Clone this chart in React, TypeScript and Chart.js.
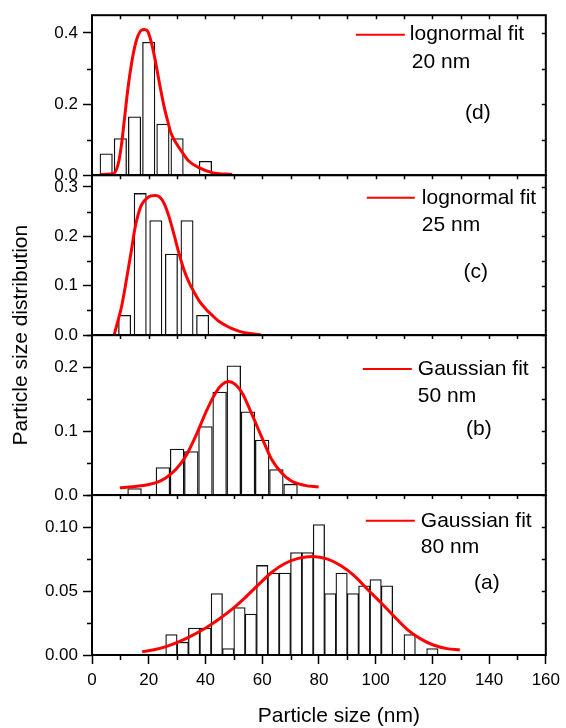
import React, { useEffect, useRef } from 'react';
import { Chart, registerables } from 'chart.js';

Chart.register(...registerables);

const FONT_FAMILY = '"Liberation Sans", Arial, Helvetica, sans-serif';

// ---------- shared x axis ----------
const xMin = 0;
const xMax = 160;
const xMajorStep = 20;
const xMinorStep = 10;

// ---------- panel (d): 20 nm, lognormal fit ----------
const dBinX = [5, 10, 15, 20, 25, 30, 40];
const dBinY = [0.060, 0.103, 0.164, 0.374, 0.144, 0.103, 0.039];
const dFitX = [2.8, 7.5, 9.2, 10.4, 11.5, 12.7, 13.9, 15.0, 16.2, 17.4, 18.5, 19.7, 20.8, 22.0, 23.2, 24.3, 25.5, 26.7, 27.8, 29.6, 31.9, 34.2, 37.7, 42.4, 49.4];
const dFitY = [0.002, 0.004, 0.030, 0.086, 0.162, 0.246, 0.312, 0.359, 0.392, 0.408, 0.410, 0.404, 0.377, 0.335, 0.284, 0.237, 0.190, 0.152, 0.119, 0.091, 0.063, 0.039, 0.021, 0.007, 0.002];

// ---------- panel (c): 25 nm, lognormal fit ----------
const cBinX = [11.5, 17, 22.5, 28, 33.5, 39];
const cBinY = [0.040, 0.287, 0.232, 0.164, 0.232, 0.040];
const cFitX = [7.8, 9.2, 10.4, 11.5, 12.7, 13.9, 15.0, 16.2, 17.4, 19.1, 20.8, 22.4, 23.8, 25.5, 27.2, 29.0, 30.7, 32.5, 34.2, 36.0, 37.7, 40.1, 42.4, 44.7, 47.0, 49.4, 52.9, 56.4, 59.6];
const cFitY = [0, 0.030, 0.057, 0.091, 0.131, 0.172, 0.212, 0.243, 0.263, 0.276, 0.282, 0.283, 0.280, 0.266, 0.239, 0.202, 0.165, 0.131, 0.107, 0.087, 0.070, 0.053, 0.040, 0.028, 0.020, 0.013, 0.006, 0.003, 0];

// ---------- panel (b): 50 nm, Gaussian fit ----------
const bBinX = [15, 25, 30, 35, 40, 45, 50, 55, 60, 65, 70];
const bBinY = [0.010, 0.043, 0.072, 0.068, 0.107, 0.161, 0.202, 0.130, 0.086, 0.040, 0.017];
const bFitX = [9.8, 14.4, 19.1, 22.6, 26.1, 29.6, 33.1, 36.6, 40.1, 43.6, 45.9, 48.2, 50.5, 52.9, 56.4, 59.9, 63.3, 66.8, 70.3, 75.0, 79.9];
const bFitY = [0.0115, 0.013, 0.0157, 0.0193, 0.0272, 0.0402, 0.0611, 0.0924, 0.129, 0.160, 0.173, 0.1775, 0.173, 0.160, 0.126, 0.0898, 0.0559, 0.035, 0.0219, 0.0151, 0.0125];

// ---------- panel (a): 80 nm, Gaussian fit ----------
const aBinX = [28, 32, 36, 40, 44, 48, 52, 56, 60, 64, 68, 72, 76, 80, 84, 88, 92, 96, 100, 104, 112, 120];
const aBinY = [0.016, 0.010, 0.021, 0.021, 0.048, 0.005, 0.037, 0.032, 0.070, 0.064, 0.064, 0.080, 0.080, 0.102, 0.048, 0.064, 0.048, 0.054, 0.059, 0.054, 0.016, 0.005];
const aFitX = [17.7, 21.4, 26.1, 30.7, 35.4, 40.1, 44.7, 49.4, 54.0, 58.7, 63.3, 68.0, 72.7, 77.9, 83.1, 87.8, 92.5, 97.1, 101.8, 106.4, 111.1, 115.7, 120.4, 125.1, 129.7];
const aFitY = [0.0026, 0.0039, 0.0065, 0.0104, 0.0154, 0.0211, 0.0279, 0.0358, 0.0449, 0.055, 0.0645, 0.0715, 0.0755, 0.077, 0.0749, 0.0697, 0.0619, 0.0514, 0.041, 0.0305, 0.0201, 0.0128, 0.0078, 0.005, 0.0039];

// ---------- panel texts and axes (top to bottom) ----------
const panelLetters = ['(d)', '(c)', '(b)', '(a)'];
const fitNames = ['lognormal fit', 'lognormal fit', 'Gaussian fit', 'Gaussian fit'];
const sizeLabels = ['20 nm', '25 nm', '50 nm', '80 nm'];
const binWidths = [5, 5.5, 5, 4];
const yMaxes = [0.45, 0.324, 0.25, 0.125];
const yMajorSteps = [0.2, 0.1, 0.1, 0.05];
const yMinorSteps = [0.1, 0.05, 0.05, 0.025];
const yDecimals = [1, 1, 1, 2];
const xTitle = 'Particle size (nm)';
const yTitle = 'Particle size distribution';

const binXs = [dBinX, cBinX, bBinX, aBinX];
const binYs = [dBinY, cBinY, bBinY, aBinY];
const fitXs = [dFitX, cFitX, bFitX, aFitX];
const fitYs = [dFitY, cFitY, bFitY, aFitY];

// ---------- style / layout ----------
const CANVAS_W = 566;
const CANVAS_H = 728;
const Y_AXIS_W = 92;
const PAD_RIGHT = 16;
const PAD_TOP = 15;
const X_AXIS_H = 73;
const PX_PER_UNIT = (CANVAS_W - Y_AXIS_W - PAD_RIGHT) / (xMax - xMin);
const barFill = [0.87, 0.78, 0.96, 1.0];

const yIds = ['yd', 'yc', 'yb', 'ya'];
const legendLayout = [
  { lineL: 190, lineR: 141, lineY: 19.5, textL: 136, text2L: 134, text2Y: 47, letterCx: 68, letterY: 98 },
  { lineL: 179, lineR: 131, lineY: 22.7, textL: 124, text2L: 124, text2Y: 50, letterCx: 70, letterY: 96.7 },
  { lineL: 183, lineR: 134, lineY: 34, textL: 128, text2L: 128, text2Y: 61, letterCx: 67, letterY: 94 },
  { lineL: 180, lineR: 131, lineY: 25.7, textL: 125, text2L: 125, text2Y: 52.3, letterCx: 59, letterY: 88 },
];

const isMultiple = (v: number, step: number) => Math.abs(v / step - Math.round(v / step)) < 1e-6;

const framePlugin = {
  id: 'panelFrame',
  afterDatasetsDraw(chart: any) {
    const ctx = chart.ctx as CanvasRenderingContext2D;
    const area = chart.chartArea;
    const xs = chart.scales.x;
    ctx.save();
    ctx.strokeStyle = '#000';
    yIds.forEach((id, i) => {
      const ys = chart.scales[id];
      ctx.lineWidth = 1.5;
      ctx.beginPath();
      const minor = yMinorSteps[i];
      for (let k = 1; k * minor <= yMaxes[i] + 1e-9; k++) {
        const v = k * minor;
        const py = Math.round(ys.getPixelForValue(v)) + 0.5;
        if (!isMultiple(v, yMajorSteps[i])) {
          ctx.moveTo(area.left - 5, py);
          ctx.lineTo(area.left, py);
        }
        ctx.moveTo(area.right, py);
        ctx.lineTo(area.right - 4, py);
      }
      for (let v = xMin + xMinorStep; v < xMax; v += xMinorStep) {
        const px = Math.round(xs.getPixelForValue(v)) + 0.5;
        ctx.moveTo(px, ys.top);
        ctx.lineTo(px, ys.top + 4);
      }
      ctx.stroke();
      ctx.lineWidth = 2;
      ctx.strokeRect(area.left, ys.top, area.right - area.left, ys.bottom - ys.top);
    });
    ctx.lineWidth = 1.5;
    ctx.beginPath();
    for (let v = xMin + xMinorStep; v < xMax; v += xMinorStep) {
      if (isMultiple(v, xMajorStep)) continue;
      const px = Math.round(xs.getPixelForValue(v)) + 0.5;
      ctx.moveTo(px, area.bottom);
      ctx.lineTo(px, area.bottom + 5);
    }
    ctx.stroke();
    ctx.restore();
  },
  afterDraw(chart: any) {
    const ctx = chart.ctx as CanvasRenderingContext2D;
    const area = chart.chartArea;
    ctx.save();
    ctx.fillStyle = '#000';
    ctx.font = `21px ${FONT_FAMILY}`;
    ctx.textBaseline = 'middle';
    yIds.forEach((id, i) => {
      const ys = chart.scales[id];
      const L = legendLayout[i];
      ctx.strokeStyle = '#ff0000';
      ctx.lineWidth = 2;
      ctx.beginPath();
      ctx.moveTo(area.right - L.lineL, ys.top + L.lineY);
      ctx.lineTo(area.right - L.lineR, ys.top + L.lineY);
      ctx.stroke();
      ctx.textAlign = 'left';
      ctx.fillText(fitNames[i], area.right - L.textL, ys.top + L.lineY);
      ctx.fillText(sizeLabels[i], area.right - L.text2L, ys.top + L.text2Y);
      ctx.textAlign = 'center';
      ctx.fillText(panelLetters[i], area.right - L.letterCx, ys.top + L.letterY);
    });
    ctx.textAlign = 'center';
    ctx.fillText(xTitle, (area.left + area.right) / 2 + 20, area.bottom + 61);
    ctx.translate(21.5, (area.top + area.bottom) / 2);
    ctx.rotate(-Math.PI / 2);
    ctx.fillText(yTitle, 0, 0);
    ctx.restore();
  },
};

export default function App() {
  const canvasRef = useRef<HTMLCanvasElement | null>(null);

  useEffect(() => {
    if (!canvasRef.current) return;
    const tickFont = { family: FONT_FAMILY, size: 17 };

    const scales: any = {
      x: {
        type: 'linear', axis: 'x', position: 'bottom', min: xMin, max: xMax, offset: false,
        grid: { offset: false, drawOnChartArea: false, drawTicks: true, tickLength: 9, tickWidth: 1.5, tickColor: '#000' },
        border: { display: false },
        ticks: { stepSize: xMajorStep, autoSkip: false, maxRotation: 0, includeBounds: false, padding: 6, color: '#000', font: tickFont },
        afterFit: (s: any) => { s.height = X_AXIS_H; },
      },
    };
    // bottom panel defined first: the last stacked left axis is placed on top
    [3, 2, 1, 0].forEach((i) => {
      scales[yIds[i]] = {
        type: 'linear', axis: 'y', position: 'left', stack: 'panels', stackWeight: 1,
        min: 0, max: yMaxes[i], offset: false,
        grid: { drawOnChartArea: false, drawTicks: true, tickLength: 9, tickWidth: 1.5, tickColor: '#000' },
        border: { display: false },
        ticks: {
          stepSize: yMajorSteps[i], autoSkip: false, includeBounds: false, padding: 5, color: '#000', font: tickFont,
          callback: (v: any) => Number(v).toFixed(yDecimals[i]),
        },
        afterFit: (s: any) => { s.width = Y_AXIS_W; },
      };
    });

    const datasets: any[] = [];
    for (let i = 0; i < 4; i++) {
      datasets.push({
        type: 'line',
        label: fitNames[i] + ' ' + sizeLabels[i],
        data: fitXs[i].map((x, k) => ({ x, y: fitYs[i][k] })),
        xAxisID: 'x',
        yAxisID: yIds[i],
        borderColor: '#ff0000',
        borderWidth: 3,
        pointRadius: 0,
        fill: false,
        cubicInterpolationMode: 'monotone',
        order: 0,
      });
      datasets.push({
        type: 'bar',
        label: 'histogram ' + panelLetters[i],
        data: binXs[i].map((x, k) => ({ x, y: binYs[i][k] })),
        xAxisID: 'x',
        yAxisID: yIds[i],
        backgroundColor: '#ffffff',
        borderColor: '#111111',
        borderWidth: 1.3,
        grouped: false,
        barThickness: binWidths[i] * barFill[i] * PX_PER_UNIT,
        order: 1,
      });
    }

    const chart = new Chart(canvasRef.current, {
      type: 'bar',
      data: { datasets },
      options: {
        responsive: false,
        animation: false,
        events: [],
        layout: { padding: { top: PAD_TOP, right: PAD_RIGHT, left: 0, bottom: 0 } },
        plugins: { legend: { display: false }, tooltip: { enabled: false }, title: { display: false } },
        scales,
      } as any,
      plugins: [framePlugin],
    });
    return () => chart.destroy();
  }, []);

  return (
    <div style={{ position: 'absolute', left: 0, top: 0, width: CANVAS_W, height: CANVAS_H, background: '#fff' }}>
      <canvas ref={canvasRef} width={CANVAS_W} height={CANVAS_H} style={{ display: 'block' }} />
    </div>
  );
}
